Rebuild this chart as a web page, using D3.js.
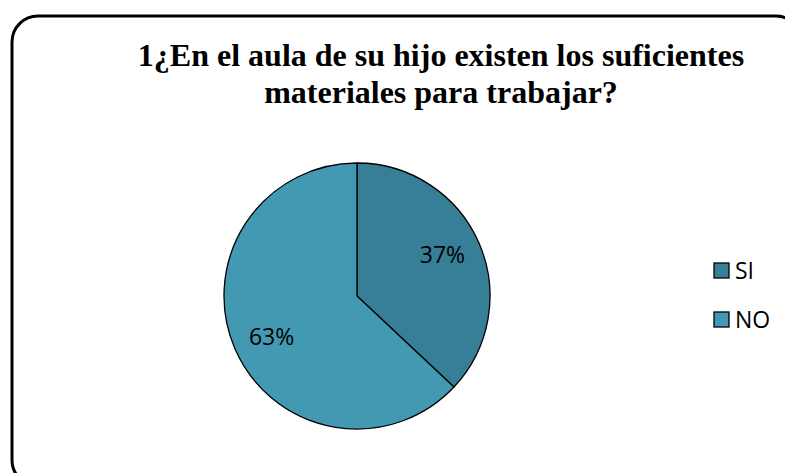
<!DOCTYPE html>
<html>
<head>
<meta charset="utf-8">
<script src="https://cdn.jsdelivr.net/npm/d3@7"></script>
<style>
	body { margin: 0; background: #fff; }
	svg { display: block; }
	.title { font-family: 'Liberation Serif', 'Times New Roman', serif; font-weight: bold; font-size: 32px; }
	.label, .legend-text { font-family: 'Open Sans', 'Liberation Sans', sans-serif; font-size: 23px; }
</style>
</head>
<body>
<svg id="chart" width="785" height="473"></svg>
<script>
const categories = ['SI', 'NO'];
const values = [37, 63];
const colors = ['#377f97', '#4399b1'];
const titleLines = ['1¿En el aula de su hijo existen los suficientes', 'materiales para trabajar?'];

const svg = d3.select('#chart');

// Outer frame, cut off at the right and bottom edges
svg.append('rect')
	.attr('x', 12).attr('y', 16)
	.attr('width', 790).attr('height', 470)
	.attr('rx', 26).attr('ry', 26)
	.attr('fill', '#fff')
	.attr('stroke', '#000')
	.attr('stroke-width', 3);

// Title
svg.append('text')
	.classed('title', true)
	.attr('text-anchor', 'middle')
	.selectAll('tspan')
	.data(titleLines)
	.enter().append('tspan')
	.attr('x', 441)
	.attr('y', (d, i) => 66 + i * 37)
	.text(d => d);

// Pie
const cx = 357;
const cy = 296;
const radius = 133;

const pie = d3.pie().sort(null).value(d => d.value);
const arc = d3.arc().innerRadius(0).outerRadius(radius);
const labelArc = d3.arc().innerRadius(radius * 0.7).outerRadius(radius * 0.7);

const data = categories.map((c, i) => ({ name: c, value: values[i], color: colors[i] }));
const total = d3.sum(values);
const arcs = pie(data);

const g = svg.append('g').attr('transform', `translate(${cx},${cy})`);

g.selectAll('path')
	.data(arcs)
	.enter().append('path')
	.attr('d', arc)
	.attr('fill', d => d.data.color)
	.attr('stroke', '#000')
	.attr('stroke-width', 1.3);

g.selectAll('text.label')
	.data(arcs)
	.enter().append('text')
	.classed('label', true)
	.attr('transform', d => {
		const [lx, ly] = labelArc.centroid(d);
		// labels sit a little further up/down than the plain centroid
		return `translate(${lx},${ly * 1.12})`;
	})
	.attr('text-anchor', 'middle')
	.attr('dy', '0.35em')
	.attr('fill', '#000')
	.text(d => `${Math.round(d.data.value / total * 100)}%`);

// Legend
const legend = svg.append('g').attr('transform', 'translate(714,263)');
const item = legend.selectAll('g')
	.data(data)
	.enter().append('g')
	.attr('transform', (d, i) => `translate(0,${i * 49})`);

item.append('rect')
	.attr('width', 15).attr('height', 15)
	.attr('fill', d => d.color)
	.attr('stroke', '#000')
	.attr('stroke-width', 1.3);

item.append('text')
	.classed('legend-text', true)
	.attr('x', 21).attr('y', 7.5)
	.attr('dy', '0.35em')
	.text(d => d.name);
</script>
</body>
</html>
